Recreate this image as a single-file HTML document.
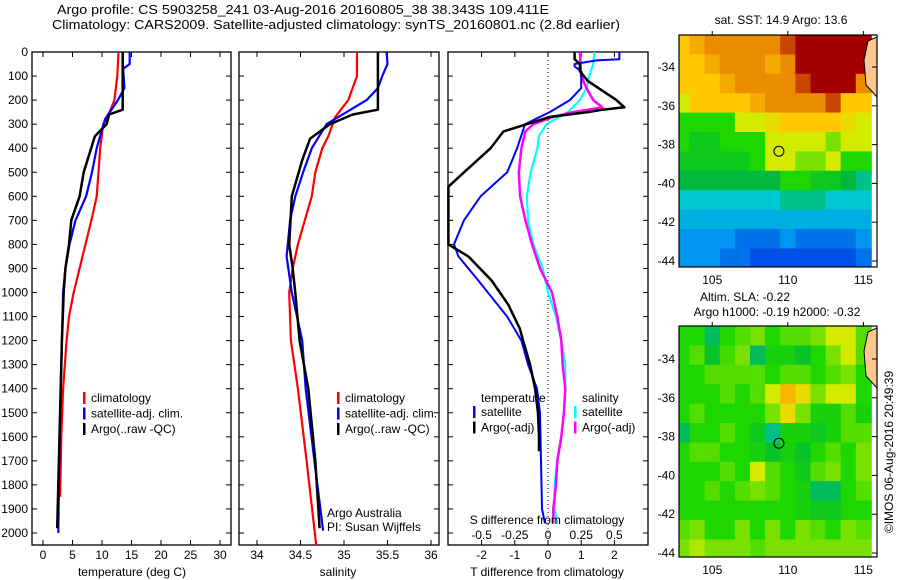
<!DOCTYPE html>
<html><head><meta charset="utf-8"><style>
body{margin:0;background:#fff;}
svg{display:block;font-family:"Liberation Sans",sans-serif;}
text{font-size:12px;fill:#000;}
</style></head><body>
<svg id="fig" width="900" height="580" viewBox="0 0 900 580" xmlns="http://www.w3.org/2000/svg">
<text x="57" y="14" textLength="492" lengthAdjust="spacingAndGlyphs" style="font-size:13px">Argo profile: CS 5903258_241 03-Aug-2016 20160805_38 38.343S 109.411E</text>
<text x="52" y="29" textLength="568" lengthAdjust="spacingAndGlyphs" style="font-size:13px">Climatology: CARS2009. Satellite-adjusted climatology: synTS_20160801.nc (2.8d earlier)</text>
<g id="g"></g>
</svg>
<script>
// ---- depth axis ----
const depthTicks=[0,100,200,300,400,500,600,700,800,900,1000,1100,1200,1300,1400,1500,1600,1700,1800,1900,2000];
// ---- temperature panel ----
const tTicks=[0,5,10,15,20,25,30];
const climT_d=[0,100,200,280,300,400,500,600,700,800,900,1000,1100,1200,1400,1600,1850];
const climT_v=[12.8,12.6,12.1,10.8,10.2,9.7,9.4,9.1,8.2,7.2,6.2,5.2,4.4,4.0,3.4,3.1,2.9];
const argoT_d=[0,240,260,300,350,500,600,700,800,900,1000,1200,1500,1800,1980];
const argoT_v=[13.5,13.5,11.2,10.8,8.8,6.9,6.2,4.8,4.4,3.8,3.5,3.2,2.9,2.6,2.4];
const satT_d=[0,50,70,150,200,280,400,500,600,700,800,900,1000,1200,1500,1800,2000];
const satT_v=[14.7,14.7,13.6,13.8,12.7,10.5,9.1,8.3,7.3,5.5,4.5,3.8,3.4,3.2,2.9,2.7,2.6];
// ---- salinity panel ----
const sTicks=[34,34.5,35,35.5,36];
const climS_d=[0,100,200,270,350,400,500,600,700,800,900,1000,1200,1400,1700,2050];
const climS_v=[35.15,35.15,35.05,34.9,34.82,34.75,34.67,34.63,34.55,34.47,34.41,34.37,34.39,34.47,34.57,34.68];
const argoS_d=[0,240,260,300,360,450,600,800,900,1000,1200,1400,1700,1980];
const argoS_v=[35.39,35.39,35.1,34.84,34.61,34.52,34.4,34.37,34.41,34.44,34.49,34.59,34.67,34.72];
const satS_d=[0,50,100,150,200,250,300,400,500,600,700,850,1000,1200,1400,1700,1990];
const satS_v=[35.49,35.5,35.44,35.39,35.26,35.03,34.8,34.63,34.53,34.44,34.38,34.34,34.4,34.52,34.56,34.66,34.76];
// ---- difference panel ----
const dTTicks=[-2,-1,0,1,2];
const dSTicks=[-0.5,-0.25,0,0.25,0.5];
const dSTickLabels=["-0.5","-0.25","0","0.25","0.5"];
const argoDT_d=[0,30,50,80,120,200,230,240,250,270,300,330,400,500,560,800,850,950,1050,1150,1200,1300,1400,1500,1600,1660];
const argoDT_v=[0.8,0.8,0.96,0.96,1.2,2.06,2.3,1.64,1.2,0.06,-0.63,-1.34,-1.73,-2.53,-3,-3,-2.4,-1.7,-1.2,-0.85,-0.75,-0.54,-0.39,-0.3,-0.27,-0.27];
const satDT_d=[0,30,35,50,60,80,150,200,250,300,400,500,600,700,800,850,950,1100,1200,1300,1400,1500,1700,1900,1960];
const satDT_v=[2.15,2.15,1.46,0.8,0.8,1.0,1.0,0.66,0.05,-0.69,-0.93,-1.23,-2.03,-2.53,-2.83,-2.7,-2.1,-1.23,-0.8,-0.6,-0.33,-0.24,-0.21,-0.18,-0.09];
const argoDS_d=[0,100,150,200,230,250,270,300,330,400,500,600,700,800,900,1000,1100,1200,1300,1400,1500,1600,1700,1800,1900,1960];
const argoDS_v=[0.24,0.25,0.29,0.34,0.41,0.19,0.04,-0.11,-0.17,-0.2,-0.22,-0.21,-0.17,-0.12,-0.06,0.03,0.07,0.1,0.11,0.13,0.12,0.1,0.07,0.06,0.04,0.04];
const satDS_d=[0,50,100,150,200,250,300,350,400,500,600,700,800,900,1000,1100,1200,1300,1400,1500,1600,1700,1800,1900,1960];
const satDS_v=[0.35,0.34,0.31,0.29,0.24,0.15,-0.01,-0.07,-0.08,-0.13,-0.16,-0.15,-0.11,-0.04,0,0.06,0.1,0.13,0.13,0.12,0.1,0.07,0.05,0.05,0.07];
// ---- maps ----
const lonTicks=[105,110,115];
const latTicks=[-34,-36,-38,-40,-42,-44];
const argoLon=109.411, argoLat=-38.343;
const sstGrid=[
[8,8.5,9,9,9,9,9,9.5,10,10,10,10,10],
[8,8,8.5,9,9,9,8.5,9,10,10,10,10,10],
[8,8,8,8.5,9,9,9,9,9.5,10,10,10,9],
[7,8,8,8,8,8.5,9,9,9,9,9.5,8,8],
[6,6,6,6,7,7,7.5,8,8,8,8,7.5,7],
[6,5.5,5.5,6,6,6,7,7,7,7,6.5,7,7],
[5.5,5.5,5.5,5.5,5.5,6,7,7,6.5,6.5,7,6,6],
[5,5,5,5,5,5,5,6,6,5.5,5.5,5,4.5],
[4,4,4,4,4,4,4,4.5,4.5,4.5,4,4,4],
[3.5,3.5,3.5,3.5,3.5,3.5,3.5,3.5,3.5,3.5,3.5,3.5,3.5],
[3,3,3,3,2.5,2.5,2.5,3,2.5,2.5,2.5,2.5,3],
[3,3,3,2.5,2.5,2,2,2,2,2,2,2,2.5]];
const slaGrid=[
[6,6,4.8,6,6.3,6.5,6,6.3,6.3,6.5,7,7,6.3],
[6,6.3,5.3,6.2,6.5,4.8,5.8,5.8,5.3,6,6.5,7,6.3],
[6,6,6.3,6.3,6.3,6.3,6,6.3,6.3,6,6.3,6.5,6],
[6,6,6,6.3,6,6.3,7,8.3,7.5,6.5,7,7,6],
[6,6.3,6,6,6,6,6.5,7.5,6.5,5.8,5.8,6.3,5.8],
[4.8,6,6,6.3,6,5.5,4.5,5.8,5.8,5.5,5.8,6.3,6.3],
[6,6.3,6.3,6,6,5.8,5.3,5.8,5.3,6,6.3,6,6.5],
[6,6,6,6.3,6,7,6.3,6,5.5,6.3,6.5,6,6.5],
[6,6,6.3,6,6.3,6.5,6.3,6,5.8,4.8,4.8,6,6.3],
[6,6,6,6,6,6,6,6,5.8,5.5,5.5,6,6],
[6.3,6.5,6,6,6.5,6,6.5,6,6.5,6.3,6,6.5,6.3],
[6.5,6.8,6.5,6.5,6.5,6.3,6.5,6.5,6.5,6.5,6.5,6.5,6.5]];

const NS="http://www.w3.org/2000/svg";
const G=document.getElementById('g');
function mk(tag,attrs,parent,txt){const e=document.createElementNS(NS,tag);for(const k in attrs)e.setAttribute(k,attrs[k]);if(txt!==undefined)e.textContent=txt;(parent||G).appendChild(e);return e;}
const TOP=52,BOT=545;
const yD=d=>TOP+d*0.2405;
const xT=v=>43+v*5.9;
const xS=v=>257+(v-34)*87;
const xDT=v=>548+v*33.2;
const xDS=v=>548+v*132.8;

function panel(name,x0,x1){
  const r=mk('rect',{x:x0,y:TOP,width:x1-x0,height:BOT-TOP,fill:'none',stroke:'#000','stroke-width':1.3});
  
  
  depthTicks.forEach(d=>{
    const t1=mk('line',{x1:x0,x2:x0+5,y1:yD(d),y2:yD(d),stroke:'#000'});
    
    
    const t2=mk('line',{x1:x1-5,x2:x1,y1:yD(d),y2:yD(d),stroke:'#000'});
    
    
  });
}
function xticks(name,ticks,labels,fx,ly){
  ticks.forEach((v,i)=>{
    const a=mk('line',{x1:fx(v),x2:fx(v),y1:TOP,y2:TOP+5,stroke:'#000'});
    
    
    const b=mk('line',{x1:fx(v),x2:fx(v),y1:BOT-5,y2:BOT,stroke:'#000'});
    
    
    const t=mk('text',{x:fx(v),y:ly,'text-anchor':'middle'},G,labels[i]);
    
    
  });
}
function line(name,ds,vs,fx,color,w){
  const p=ds.map((d,i)=>fx(vs[i]).toFixed(1)+','+yD(d).toFixed(1)).join(' ');
  const e=mk('polyline',{points:p,fill:'none',stroke:color,'stroke-width':w,'stroke-linejoin':'round'});
  
  
}
function legend(name,x,y,items){
  items.forEach((it,i)=>{
    const b=mk('rect',{x:x,y:y+i*15.5-10,width:2.5,height:12,fill:it[1]});
    
    
    const t=mk('text',{x:x+8,y:y+i*15.5},G,it[0]);
    
    
  });
}
depthTicks.forEach(d=>{
  const t=mk('text',{x:28,y:yD(d)+4,'text-anchor':'end'},G,String(d));
  
  
});
panel('temperature-panel',32,231);
xticks('temperature-axis',tTicks,tTicks.map(String),xT,559);
line('temperature-climatology-line',climT_d,climT_v,xT,'#f00',2.2);
line('temperature-satellite-line',satT_d,satT_v,xT,'#00f',2.2);
line('temperature-argo-line',argoT_d,argoT_v,xT,'#000',2.5);
legend('temperature-legend',83,402,[['climatology','#f00'],['satellite-adj. clim.','#00f'],['Argo(..raw -QC)','#000']]);
let t=mk('text',{x:132,y:576,'text-anchor':'middle'},G,'temperature (deg C)');

panel('salinity-panel',239,439);
xticks('salinity-axis',sTicks,sTicks.map(String),xS,559);
line('salinity-climatology-line',climS_d,climS_v,xS,'#f00',2.2);
line('salinity-satellite-line',satS_d,satS_v,xS,'#00f',2.2);
line('salinity-argo-line',argoS_d,argoS_v,xS,'#000',2.5);
legend('salinity-legend',337,402,[['climatology','#f00'],['satellite-adj. clim.','#00f'],['Argo(..raw -QC)','#000']]);
t=mk('text',{x:338,y:576,'text-anchor':'middle'},G,'salinity');

t=mk('text',{x:327,y:517},G,'Argo Australia');

t=mk('text',{x:327,y:531},G,'PI: Susan Wijffels');

panel('difference-panel',448,648);
const zl=mk('line',{x1:xDT(0),x2:xDT(0),y1:TOP,y2:BOT,stroke:'#000','stroke-dasharray':'1,3'});

xticks('t-difference-axis',dTTicks,dTTicks.map(String),xDT,559);
dSTicks.forEach((v,i)=>{
  const tt=mk('text',{x:xDS(v),y:539,'text-anchor':'middle'},G,dSTickLabels[i]);
  
  
});
line('salinity-diff-satellite-line',satDS_d,satDS_v,xDS,'#0ff',2.2);
line('salinity-diff-argo-line',argoDS_d,argoDS_v,xDS,'#f0f',2.5);
line('temperature-diff-satellite-line',satDT_d,satDT_v,xDT,'#00f',2);
line('temperature-diff-argo-line',argoDT_d,argoDT_v,xDT,'#000',2.5);
t=mk('text',{x:481,y:402},G,'temperature');

t=mk('text',{x:582,y:402},G,'salinity');

legend('diff-temperature-legend',473,416,[['satellite','#00f'],['Argo(-adj)','#000']]);
legend('diff-salinity-legend',574,416,[['satellite','#0ff'],['Argo(-adj)','#f0f']]);
t=mk('text',{x:547,y:524,'text-anchor':'middle'},G,'S difference from climatology');

t=mk('text',{x:547,y:576,'text-anchor':'middle'},G,'T difference from climatology');


const cstops=[[0,[0,0,150]],[2,[0,80,230]],[3,[0,150,240]],[4,[0,200,210]],[5,[0,185,60]],[6,[30,215,0]],[7,[210,235,0]],[8,[255,200,0]],[9,[235,140,0]],[10,[165,0,0]]];
function cmap(v){for(let i=0;i<cstops.length-1;i++){const a=cstops[i],b=cstops[i+1];if(v<=b[0]){const f=(v-a[0])/(b[0]-a[0]);return 'rgb('+a[1].map((c,k)=>Math.round(c+(b[1][k]-c)*f)).join(',')+')';}}return 'rgb(165,0,0)';}
function map(name,top,bot,grid){
  const L=679,R=877;
  const lon0=102.8,lon1=115.9;
  const xL=v=>L+(v-lon0)*(R-L)/(lon1-lon0);
  const lat34y=top+(name==='sst-map'?32:33);
  const yL=v=>lat34y+(-34-v)*19.4;
  const latTop=-34+(lat34y-top)/19.4;
  const cl=mk('clipPath',{id:name+'-clip'});
  mk('rect',{x:L,y:top,width:R-L,height:bot-top},cl);
  const g=mk('g',{'clip-path':'url(#'+name+'-clip)'});
  
  
  grid.forEach((row,r)=>row.forEach((v,c)=>{
    const x=xL(103+c),y=yL(latTop-r);
    const cell=mk('rect',{x:x-7.6,y:y,width:16,height:20,fill:cmap(v)},g);
    
    
  }));
  const land=mk('path',{d:'M877,'+(top+2)+' L868,'+(top+6)+' L864,'+(top+25)+' L866,'+(top+50)+' L877,'+(top+62)+' Z',fill:'#fcc88e',stroke:'#000','stroke-width':1},g);
  
  
  const fr=mk('rect',{x:L,y:top,width:R-L,height:bot-top,fill:'none',stroke:'#000','stroke-width':1.2});
  
  
  latTicks.forEach(v=>{
    const y=yL(v);
    const tk=mk('line',{x1:R-5,x2:R,y1:y,y2:y,stroke:'#000'});
    
    
    const tl=mk('text',{x:675,y:y+4,'text-anchor':'end'},G,String(v));
    
    
  });
  lonTicks.forEach(v=>{
    const x=xL(v);
    const tk=mk('line',{x1:x,x2:x,y1:top-4,y2:top,stroke:'#000'});
    
    
    const tl=mk('text',{x:x,y:bot+17,'text-anchor':'middle'},G,String(v));
    
    
  });
  const c=mk('circle',{cx:xL(argoLon),cy:yL(argoLat),r:5,fill:'none',stroke:'#000','stroke-width':1});
  
  
}
map('sst-map',35,267,sstGrid);
map('sla-map',326,557,slaGrid);
t=mk('text',{x:781,y:24,'text-anchor':'middle'},G,'sat. SST: 14.9 Argo: 13.6');

t=mk('text',{x:745,y:301,'text-anchor':'middle'},G,'Altim. SLA: -0.22');

t=mk('text',{x:777,y:316,'text-anchor':'middle'},G,'Argo h1000: -0.19 h2000: -0.32');

t=mk('text',{x:893,y:452,'text-anchor':'middle',transform:'rotate(-90 893 452)'},G,'©IMOS 06-Aug-2016 20:49:39');

</script>
</body></html>
